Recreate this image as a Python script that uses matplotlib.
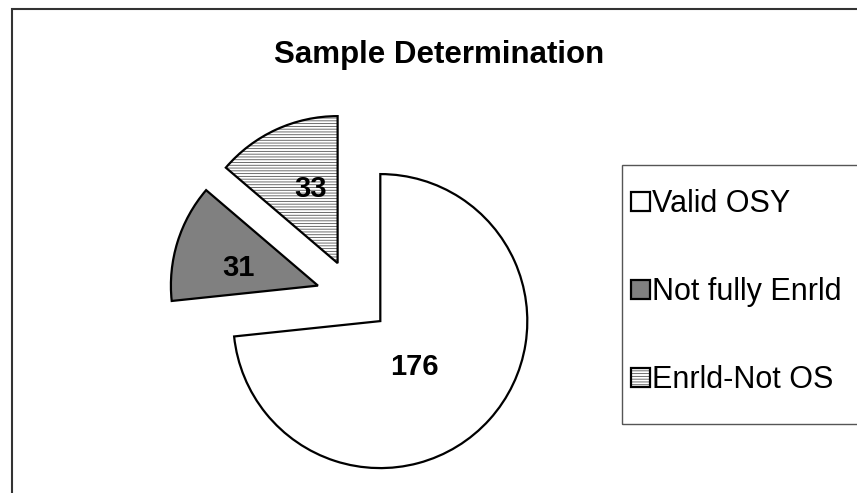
import matplotlib
matplotlib.use("Agg")
import matplotlib.pyplot as plt
from matplotlib.patches import Rectangle
from matplotlib.colors import to_rgba
import numpy as np

# Data
categories = ["Valid OSY", "Not fully Enrld", "Enrld-Not OS"]
counts = [176, 31, 33]
chart_title = "Sample Determination"

W, H, DPI = 857, 493, 100
plt.rcParams['font.family'] = ['Liberation Sans', 'DejaVu Sans']
plt.rcParams['hatch.linewidth'] = 0.6

fig = plt.figure(figsize=(W / DPI, H / DPI), dpi=DPI)
fig.patch.set_facecolor('white')
ax = fig.add_axes([0, 0, 1, 1])

# Pie geometry in pixels (radius and centre of the un-exploded pie)
R = 147.0
cx, cy = 353.0, 296.5

wedges, _ = ax.pie(counts, startangle=90, counterclock=False,
                   explode=[0.25, 0.25, 0.25],
                   colors=['white', '#808080', 'white'],
                   wedgeprops=dict(edgecolor='black', linewidth=1.6))
wedges[2].set_hatch('-' * 6)
wedges[2]._hatch_color = to_rgba('#555555')

ax.set_xlim(-cx / R, (W - cx) / R)
ax.set_ylim(-(H - cy) / R, cy / R)
ax.set_aspect('auto')
ax.axis('off')

# Value labels inside each slice
label_dist = [0.385, 0.55, 0.535]
label_turn = [-11.5, 5.0, -4.75]
for w, n, d, t in zip(wedges, counts, label_dist, label_turn):
    mid = np.deg2rad((w.theta1 + w.theta2) / 2 + t)
    x = w.center[0] + d * w.r * np.cos(mid)
    y = w.center[1] + d * w.r * np.sin(mid)
    ax.text(x, y, str(n), ha='center', va='center', fontsize=21,
            fontweight='bold', color='black')

# Title
fig.text(439 / W, 1 - 63.3 / H, chart_title, ha='center', va='baseline',
         fontsize=22.5, fontweight='bold')

# Legend entries (frame drawn separately below)
leg = fig.legend(wedges, categories, loc='upper left',
                 bbox_to_anchor=(631 / W, 1 - 189.5 / H),
                 frameon=False, fontsize=22, handlelength=0.62,
                 handleheight=0.6, handletextpad=0.07, labelspacing=1.89,
                 borderpad=0, borderaxespad=0)

# Legend frame, running off the right edge
fig.patches.append(Rectangle((622 / W, 1 - 424 / H), 0.5, (424 - 165) / H,
                             transform=fig.transFigure, fill=False,
                             edgecolor='#555555', linewidth=1.0, zorder=0))

# Chart area border
fig.patches.append(Rectangle((12 / W, -0.1), 1.2, (1 - 9 / H) + 0.1,
                             transform=fig.transFigure, fill=False,
                             edgecolor='#333333', linewidth=1.5))

fig.savefig('out.png', dpi=DPI)
